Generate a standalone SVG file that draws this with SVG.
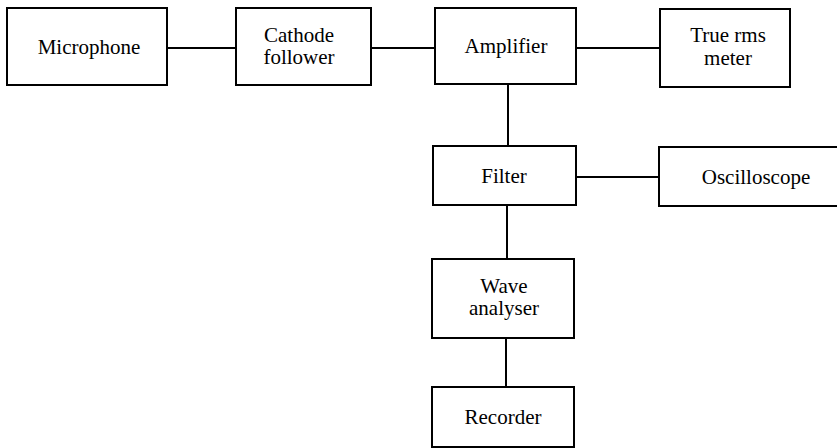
<svg xmlns="http://www.w3.org/2000/svg" width="837" height="448" viewBox="0 0 837 448">
<style>
.box{fill:#fff;stroke:#000;stroke-width:2}
.ln{stroke:#000;stroke-width:2;fill:none}
.t{font-family:'Liberation Serif','Times New Roman',serif;font-size:21px;fill:#000;text-anchor:middle}
</style>
<rect width="837" height="448" fill="#fff"/>
<g id="connectors">
<line class="ln" x1="167" y1="48" x2="236" y2="48"/>
<line class="ln" x1="371" y1="48" x2="435" y2="48"/>
<line class="ln" x1="576" y1="48" x2="660" y2="48"/>
<line class="ln" x1="508" y1="84" x2="508" y2="146"/>
<line class="ln" x1="576" y1="177" x2="659" y2="177"/>
<line class="ln" x1="507" y1="205" x2="507" y2="259"/>
<line class="ln" x1="506" y1="338" x2="506" y2="387"/>
</g>
<g id="microphone">
<rect class="box" x="7" y="8" width="160" height="77"/>
<text class="t" x="89" y="54">Microphone</text>
</g>
<g id="cathode-follower">
<rect class="box" x="236" y="8" width="135" height="77"/>
<text class="t" x="299" y="42">Cathode</text>
<text class="t" x="299" y="64">follower</text>
</g>
<g id="amplifier">
<rect class="box" x="435" y="8" width="141" height="76"/>
<text class="t" x="506" y="53">Amplifier</text>
</g>
<g id="true-rms-meter">
<rect class="box" x="660" y="9" width="130" height="78"/>
<text class="t" x="728" y="42">True rms</text>
<text class="t" x="728" y="65">meter</text>
</g>
<g id="filter">
<rect class="box" x="433" y="146" width="143" height="59"/>
<text class="t" x="504" y="183">Filter</text>
</g>
<g id="oscilloscope">
<rect class="box" x="659" y="147" width="193" height="59"/>
<text class="t" x="756" y="184">Oscilloscope</text>
</g>
<g id="wave-analyser">
<rect class="box" x="432" y="259" width="142" height="79"/>
<text class="t" x="504" y="293">Wave</text>
<text class="t" x="504" y="315">analyser</text>
</g>
<g id="recorder">
<rect class="box" x="432" y="387" width="142" height="60"/>
<text class="t" x="503" y="424">Recorder</text>
</g>
</svg>
